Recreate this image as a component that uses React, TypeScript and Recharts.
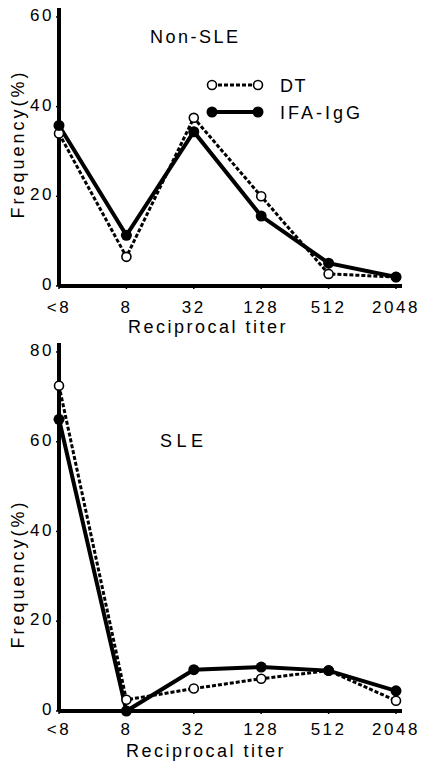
import React from 'react';
import { LineChart, Line, XAxis, YAxis } from 'recharts';

const titers = ['<8', '8', '32', '128', '512', '2048'];

// Non-SLE panel (frequency %)
const nonSleDT = [34, 6.5, 37.5, 20, 2.7, 2];
const nonSleIFA = [35.8, 11.3, 34.4, 15.6, 5.1, 2];

// SLE panel (frequency %)
const sleDT = [72.5, 2.5, 5, 7.2, 9, 2.3];
const sleIFA = [65, 0, 9.2, 9.8, 9, 4.5];

const nonSleTicks = [0, 20, 40, 60];
const sleTicks = [0, 20, 40, 60, 80];

const font = '"Liberation Sans", Arial, sans-serif';

const buildRows = (dt: number[], ifa: number[]) =>
  titers.map((t, i) => ({ titer: t, dt: dt[i], ifa: ifa[i] }));

const nonSleData = buildRows(nonSleDT, nonSleIFA);
const sleData = buildRows(sleDT, sleIFA);

const OpenDot = (props: any) => {
  const { cx, cy } = props;
  if (cx == null || cy == null) return null;
  return <circle cx={cx} cy={cy} r={4.5} fill="#fff" stroke="#000" strokeWidth={1.6} />;
};

const FilledDot = (props: any) => {
  const { cx, cy } = props;
  if (cx == null || cy == null) return null;
  return <circle cx={cx} cy={cy} r={5.5} fill="#000" stroke="none" />;
};

// legend key, drawn in the overlay
const LegendKey = ({ x, y }: { x: number; y: number }) => (
  <g transform={`translate(${x} ${y})`}>
    <line x1={7} y1={8} x2={53} y2={8} stroke="#000" strokeWidth={3} strokeDasharray="4 2" />
    <circle cx={7} cy={8} r={4.5} fill="#fff" stroke="#000" strokeWidth={1.6} />
    <circle cx={53} cy={8} r={4.5} fill="#fff" stroke="#000" strokeWidth={1.6} />
    <text x={75} y={14.5} fontFamily={font} fontSize={18} letterSpacing={1.5} fill="#000">DT</text>
    <line x1={7} y1={35} x2={53} y2={35} stroke="#000" strokeWidth={4} />
    <circle cx={7} cy={35} r={5.5} fill="#000" />
    <circle cx={53} cy={35} r={5.5} fill="#000" />
    <text x={75} y={41.5} fontFamily={font} fontSize={18} letterSpacing={3} fill="#000">IFA-IgG</text>
  </g>
);

const xTickStyle = { fontFamily: font, fontSize: 17, fill: '#000', letterSpacing: 2.5 };
const yTickStyle = { fontFamily: font, fontSize: 17, fill: '#000', letterSpacing: 2.5, dy: -2 };

type PanelProps = {
  data: { titer: string; dt: number; ifa: number }[];
  height: number;
  top: number;
  xAxisHeight: number;
  domainMax: number;
  ticks: number[];
  xTickGap: number;
};

const Panel = ({ data, height, top, xAxisHeight, domainMax, ticks, xTickGap }: PanelProps) => (
  <LineChart
    width={428}
    height={height}
    data={data}
    margin={{ top, right: 26, left: 0, bottom: 0 }}
    style={{ display: 'block' }}
  >
    <XAxis
      dataKey="titer"
      height={xAxisHeight}
      padding={{ left: 0, right: 6 }}
      axisLine={{ stroke: '#000', strokeWidth: 4 }}
      tickLine={{ stroke: '#000', strokeWidth: 1.5 }}
      tickSize={3}
      tickMargin={xTickGap}
      tick={xTickStyle}
      interval={0}
    />
    <YAxis
      width={59}
      domain={[0, domainMax]}
      ticks={ticks}
      axisLine={{ stroke: '#000', strokeWidth: 4 }}
      tickLine={{ stroke: '#000', strokeWidth: 1.5 }}
      tickSize={3}
      tickMargin={2}
      tick={yTickStyle}
      interval={0}
    />
    <Line
      dataKey="dt"
      stroke="#000"
      strokeWidth={3}
      strokeDasharray="4 2"
      dot={<OpenDot />}
      activeDot={false}
      isAnimationActive={false}
    />
    <Line
      dataKey="ifa"
      stroke="#000"
      strokeWidth={4}
      dot={<FilledDot />}
      activeDot={false}
      isAnimationActive={false}
    />
  </LineChart>
);

const App = () => (
  <div style={{ position: 'absolute', left: 0, top: 0, width: 428, height: 763, background: '#fff' }}>
    <Panel data={nonSleData} height={340} top={8} xAxisHeight={54} domainMax={62} ticks={nonSleTicks} xTickGap={12} />
    <Panel data={sleData} height={423} top={3} xAxisHeight={52} domainMax={82} ticks={sleTicks} xTickGap={9} />
    <svg
      width={428}
      height={763}
      style={{ position: 'absolute', left: 0, top: 0, pointerEvents: 'none' }}
    >
      <LegendKey x={205} y={77} />
      <g fontFamily={font} fontSize={18} fill="#000">
        <text x={150} y={43} letterSpacing={2.5}>Non-SLE</text>
        <text x={160} y={447} letterSpacing={4.5}>SLE</text>
        <text x={208} y={333} textAnchor="middle" letterSpacing={2.5}>Reciprocal titer</text>
        <text x={206} y={757} textAnchor="middle" letterSpacing={2.5}>Reciprocal titer</text>
        <text x={24} y={144} textAnchor="middle" letterSpacing={3} transform="rotate(-90 24 144)">Frequency(%)</text>
        <text x={24} y={574} textAnchor="middle" letterSpacing={3} transform="rotate(-90 24 574)">Frequency(%)</text>
      </g>
    </svg>
  </div>
);

export default App;
